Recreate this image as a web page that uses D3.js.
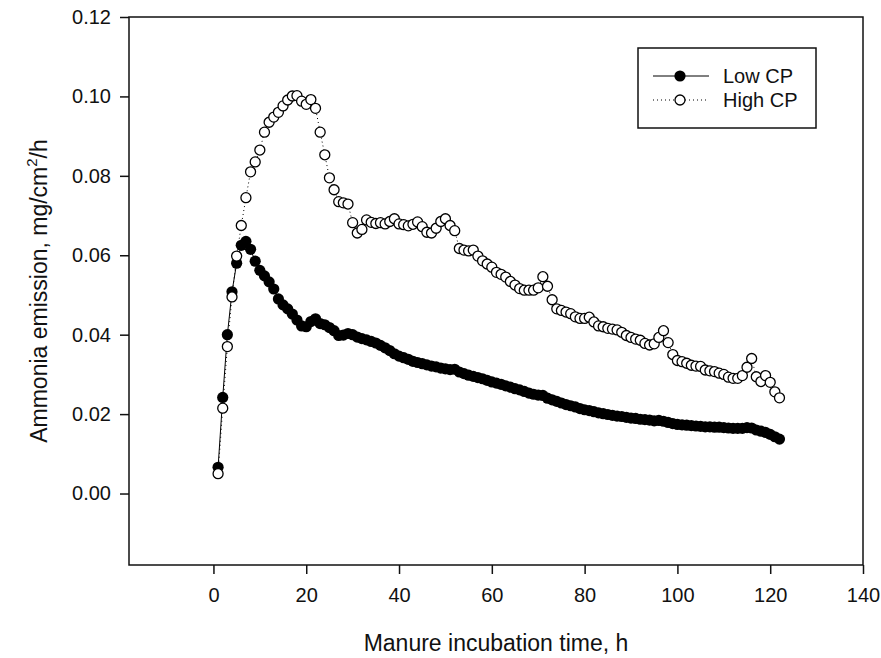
<!DOCTYPE html>
<html>
<head>
<meta charset="utf-8">
<script src="https://cdn.jsdelivr.net/npm/d3@7"></script>
<style>
  body { margin: 0; background: #fff; }
  text { font-family: "Liberation Sans", Arial, sans-serif; fill: #111; }
</style>
</head>
<body>
<div id="chart"></div>
<script>
// Incubation time (h)
const hours = [
  1, 2, 3, 4, 5, 6, 7, 8, 9, 10, 11, 12, 13, 14, 15, 16, 17, 18, 19, 20,
  21, 22, 23, 24, 25, 26, 27, 28, 29, 30, 31, 32, 33, 34, 35, 36, 37, 38, 39, 40,
  41, 42, 43, 44, 45, 46, 47, 48, 49, 50, 51, 52, 53, 54, 55, 56, 57, 58, 59, 60,
  61, 62, 63, 64, 65, 66, 67, 68, 69, 70, 71, 72, 73, 74, 75, 76, 77, 78, 79, 80,
  81, 82, 83, 84, 85, 86, 87, 88, 89, 90, 91, 92, 93, 94, 95, 96, 97, 98, 99, 100,
  101, 102, 103, 104, 105, 106, 107, 108, 109, 110, 111, 112, 113, 114, 115, 116, 117, 118, 119, 120,
  121, 122
];

// Ammonia emission, mg/cm2/h
const lowCP = [
  0.0066, 0.0242, 0.0400, 0.0508, 0.0580, 0.0625, 0.0635, 0.0615, 0.0585, 0.0562,
  0.0548, 0.0533, 0.0515, 0.0490, 0.0475, 0.0465, 0.0452, 0.0437, 0.0422, 0.0420,
  0.0433, 0.0440, 0.0428, 0.0425, 0.0418, 0.0410, 0.0398, 0.0399, 0.0403, 0.0400,
  0.0394, 0.0390, 0.0387, 0.0383, 0.0379, 0.0373, 0.0367, 0.0360, 0.0352, 0.0346,
  0.0342, 0.0338, 0.0333, 0.0330, 0.0327, 0.0324, 0.0321, 0.0319, 0.0316, 0.0314,
  0.0312, 0.0313, 0.0306, 0.0302, 0.0298, 0.0295, 0.0292, 0.0289, 0.0285, 0.0281,
  0.0278, 0.0275, 0.0271, 0.0268, 0.0264, 0.0261, 0.0257, 0.0253, 0.0250, 0.0248,
  0.0247, 0.0240, 0.0236, 0.0232, 0.0228, 0.0224, 0.0221, 0.0218, 0.0214, 0.0211,
  0.0209, 0.0206, 0.0203, 0.0201, 0.0199, 0.0197, 0.0195, 0.0194, 0.0192, 0.0190,
  0.0189, 0.0187, 0.0186, 0.0185, 0.0183, 0.0184, 0.0182, 0.0179, 0.0176, 0.0174,
  0.0173, 0.0172, 0.0171, 0.0170, 0.0169, 0.0168, 0.0168, 0.0167, 0.0167, 0.0166,
  0.0165, 0.0164, 0.0164, 0.0164, 0.0166, 0.0165, 0.0160, 0.0157, 0.0154, 0.0149,
  0.0143, 0.0137
];

const highCP = [
  0.0050, 0.0215, 0.0370, 0.0495, 0.0598, 0.0675, 0.0745, 0.0810, 0.0835, 0.0865,
  0.0910, 0.0935, 0.0948, 0.0960, 0.0976, 0.0991, 0.1001, 0.1002, 0.0988, 0.0980,
  0.0992, 0.0970, 0.0910, 0.0853, 0.0795, 0.0765, 0.0735, 0.0732, 0.0729, 0.0682,
  0.0656, 0.0665, 0.0689, 0.0683, 0.0680, 0.0682, 0.0679, 0.0685, 0.0692, 0.0679,
  0.0677, 0.0674, 0.0678, 0.0684, 0.0672, 0.0658, 0.0656, 0.0668, 0.0685, 0.0692,
  0.0675, 0.0662, 0.0617, 0.0613, 0.0611, 0.0613, 0.0598, 0.0586, 0.0578, 0.0570,
  0.0557, 0.0552, 0.0545, 0.0534, 0.0525, 0.0516, 0.0512, 0.0512, 0.0512, 0.0518,
  0.0546, 0.0522, 0.0488, 0.0465, 0.0461, 0.0457, 0.0453, 0.0445, 0.0441, 0.0441,
  0.0444, 0.0432, 0.0422, 0.0420, 0.0416, 0.0414, 0.0412, 0.0406, 0.0398, 0.0393,
  0.0389, 0.0386, 0.0378, 0.0374, 0.0377, 0.0393, 0.0410, 0.0380, 0.0350, 0.0335,
  0.0332, 0.0328, 0.0323, 0.0321, 0.0320, 0.0311, 0.0309, 0.0307, 0.0303, 0.0300,
  0.0293, 0.0290, 0.0290, 0.0297, 0.0318, 0.0340, 0.0294, 0.0282, 0.0297, 0.0280,
  0.0256, 0.0241
];

const xTicks = [0, 20, 40, 60, 80, 100, 120, 140];
const yTicks = [0.00, 0.02, 0.04, 0.06, 0.08, 0.10, 0.12];
const seriesNames = ["Low CP", "High CP"];

const svgWidth = 881;
const svgHeight = 658;
const margin = { top: 17, right: 18, bottom: 93, left: 129 };
const width = svgWidth - margin.left - margin.right;
const height = svgHeight - margin.top - margin.bottom;

const svg = d3.select("#chart")
  .append("svg")
  .attr("width", svgWidth)
  .attr("height", svgHeight);

const chart = svg.append("g")
  .attr("transform", `translate(${margin.left},${margin.top})`);

// Scales
const x = d3.scaleLinear().domain([-18.2, 140]).range([0, width]);
const y = d3.scaleLinear().domain([-0.018, 0.12]).range([height, 0]);

// Axes
const xAxis = chart.append("g")
  .attr("transform", `translate(0,${height})`)
  .call(d3.axisBottom(x).tickValues(xTicks).tickSize(9).tickPadding(14).tickFormat(d3.format("d")));

const yAxis = chart.append("g")
  .call(d3.axisLeft(y).tickValues(yTicks).tickSize(9).tickPadding(9).tickFormat(d3.format(".2f")));

[xAxis, yAxis].forEach(ax => {
  ax.select(".domain").remove();
  ax.selectAll(".tick line").attr("stroke", "#111").attr("stroke-width", 1.5);
  ax.selectAll("text").style("font-size", "20px").attr("fill", "#111");
});

// Frame
chart.append("rect")
  .attr("width", width)
  .attr("height", height)
  .attr("fill", "none")
  .attr("stroke", "#111")
  .attr("stroke-width", 1.5);

const lowData = hours.map((h, i) => ({ h, v: lowCP[i] }));
const highData = hours.map((h, i) => ({ h, v: highCP[i] }));

const line = d3.line().x(d => x(d.h)).y(d => y(d.v));

// Low CP: solid line, filled dots
chart.append("path")
  .datum(lowData)
  .attr("fill", "none")
  .attr("stroke", "#000")
  .attr("stroke-width", 1)
  .attr("d", line);

chart.selectAll(".low")
  .data(lowData)
  .enter()
  .append("circle")
  .attr("class", "low")
  .attr("cx", d => x(d.h))
  .attr("cy", d => y(d.v))
  .attr("r", 5.6)
  .attr("fill", "#000");

// High CP: dotted line, open dots
chart.append("path")
  .datum(highData)
  .attr("fill", "none")
  .attr("stroke", "#000")
  .attr("stroke-width", 1)
  .attr("stroke-dasharray", "1,3")
  .attr("d", line);

chart.selectAll(".high")
  .data(highData)
  .enter()
  .append("circle")
  .attr("class", "high")
  .attr("cx", d => x(d.h))
  .attr("cy", d => y(d.v))
  .attr("r", 5)
  .attr("fill", "#fff")
  .attr("stroke", "#000")
  .attr("stroke-width", 1.3);

// Axis titles
svg.append("text")
  .attr("x", margin.left + width / 2)
  .attr("y", 651)
  .attr("text-anchor", "middle")
  .style("font-size", "23px")
  .text("Manure incubation time, h");

const yTitle = svg.append("text")
  .attr("transform", `translate(47,${margin.top + height / 2}) rotate(-90)`)
  .attr("text-anchor", "middle")
  .style("font-size", "23px");
yTitle.append("tspan").text("Ammonia emission, mg/cm");
yTitle.append("tspan").attr("dy", -10).style("font-size", "15px").text("2");
yTitle.append("tspan").attr("dy", 10).text("/h");

// Legend
const legend = svg.append("g").attr("transform", "translate(638,48)");
legend.append("rect")
  .attr("width", 178)
  .attr("height", 80)
  .attr("fill", "#fff")
  .attr("stroke", "#111")
  .attr("stroke-width", 1.5);

seriesNames.forEach((name, i) => {
  const ly = 28 + i * 24;
  legend.append("line")
    .attr("x1", 15).attr("x2", 71)
    .attr("y1", ly).attr("y2", ly)
    .attr("stroke", "#000")
    .attr("stroke-width", 1)
    .attr("stroke-dasharray", i === 0 ? null : "1,3");
  legend.append("circle")
    .attr("cx", 42).attr("cy", ly)
    .attr("r", i === 0 ? 5.6 : 5)
    .attr("fill", i === 0 ? "#000" : "#fff")
    .attr("stroke", "#000")
    .attr("stroke-width", i === 0 ? 0 : 1.3);
  legend.append("text")
    .attr("x", 85)
    .attr("y", ly)
    .attr("dy", "0.35em")
    .style("font-size", "20px")
    .text(name);
});
</script>
</body>
</html>
